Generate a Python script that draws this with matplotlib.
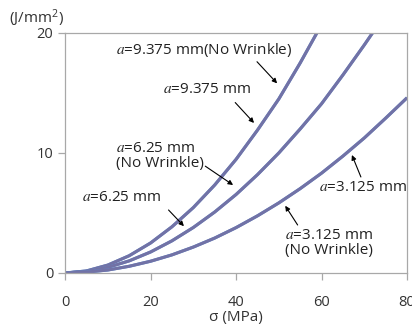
import matplotlib as mpl; mpl.use('agg')
import matplotlib.pyplot as plt

# values
sigma = [0, 5, 10, 15, 20, 25, 30, 35, 40, 45, 50, 55, 60, 65, 70, 75, 80]
# a = 9.375 mm
w_9375 = [0, 0.17, 0.66, 1.44, 2.5, 3.85, 5.45, 7.33, 9.47, 11.9, 14.5, 17.5, 20.7, 24.2, 28.0, 32.0, 36.3]
nw_9375 = [0, 0.17, 0.66, 1.44, 2.5, 3.85, 5.45, 7.33, 9.47, 11.9, 14.5, 17.5, 20.7, 24.2, 28.0, 32.0, 36.3]
# a = 6.25 mm
w_625 = [0, 0.13, 0.47, 1.01, 1.75, 2.68, 3.79, 5.08, 6.54, 8.19, 10.0, 12.0, 14.1, 16.5, 19.0, 21.6, 24.4]
nw_625 = [0, 0.13, 0.47, 1.01, 1.75, 2.68, 3.79, 5.08, 6.54, 8.19, 10.0, 12.0, 14.1, 16.5, 19.0, 21.6, 24.4]
# a = 3.125 mm
w_3125 = [0, 0.07, 0.25, 0.56, 0.98, 1.51, 2.16, 2.91, 3.78, 4.76, 5.84, 7.03, 8.32, 9.74, 11.25, 12.9, 14.6]
nw_3125 = [0, 0.07, 0.25, 0.56, 0.98, 1.51, 2.16, 2.91, 3.78, 4.76, 5.84, 7.03, 8.32, 9.74, 11.25, 12.9, 14.6]

x_ticks = [0, 20, 40, 60, 80]
y_ticks = [0, 10, 20]

plt.rcParams['font.family'] = ['Open Sans', 'DejaVu Sans']
plt.rcParams['mathtext.fontset'] = 'stix'

fig = plt.figure(figsize=(4.12, 3.26), dpi=100)
ax = fig.add_axes([0.158, 0.1626, 0.83, 0.7364])

blue = '#5b8fd0'
purple = '#7272a6'
for w, nw in [(w_9375, nw_9375), (w_625, nw_625), (w_3125, nw_3125)]:
    ax.plot(sigma, w, color=blue, lw=2.2, solid_capstyle='butt')
    ax.plot(sigma, nw, color=purple, lw=2.2, solid_capstyle='butt')

ax.set_xlim(0, 80)
ax.set_ylim(0, 20)
ax.set_xticks(x_ticks)
ax.set_yticks(y_ticks)
for sp in ax.spines.values():
    sp.set_color('#a8a8a8')
    sp.set_linewidth(0.9)
ax.tick_params(colors='#a8a8a8', labelcolor='#333333', labelsize=10.5,
               length=5, width=0.9, direction='out')
ax.tick_params(axis='x', pad=11)

ax.set_xlabel(r'σ (MPa)', fontsize=11, color='#333333', labelpad=0)
fig.text(0.022, 0.945, '(J/mm$^\\mathregular{2}$)', fontsize=11, color='#333333',
         ha='left', va='center')

arrow = dict(arrowstyle='-|>', color='black', lw=0.8, mutation_scale=7,
             shrinkA=0, shrinkB=0)
fs = 11
a = r'$\mathit{a}$'
ax.text(11.8, 18.6, a + '=9.375 mm(No Wrinkle)', fontsize=fs, va='center', color='#222222')
ax.annotate('', xy=(49.6, 15.8), xytext=(44.9, 17.6), arrowprops=arrow)

ax.text(22.8, 15.25, a + '=9.375 mm', fontsize=fs, va='center', color='#222222')
ax.annotate('', xy=(44.2, 12.5), xytext=(39.8, 14.2), arrowprops=arrow)

ax.text(12.0, 9.75, a + '=6.25 mm\n(No Wrinkle)', fontsize=fs, va='center',
        linespacing=1.0, color='#222222')
ax.annotate('', xy=(39.3, 7.33), xytext=(32.8, 8.9), arrowprops=arrow)

ax.text(4.0, 6.25, a + '=6.25 mm', fontsize=fs, va='center', color='#222222')
ax.annotate('', xy=(27.8, 3.9), xytext=(24.2, 5.25), arrowprops=arrow)

ax.text(59.5, 7.1, a + '=3.125 mm', fontsize=fs, va='center', color='#222222')
ax.annotate('', xy=(67.1, 9.83), xytext=(69.2, 8.0), arrowprops=arrow)

ax.text(51.5, 2.5, a + '=3.125 mm\n(No Wrinkle)', fontsize=fs, va='center',
        linespacing=1.0, color='#222222')
ax.annotate('', xy=(51.5, 5.6), xytext=(54.4, 4.0), arrowprops=arrow)

fig.savefig('out.png', dpi=100)
